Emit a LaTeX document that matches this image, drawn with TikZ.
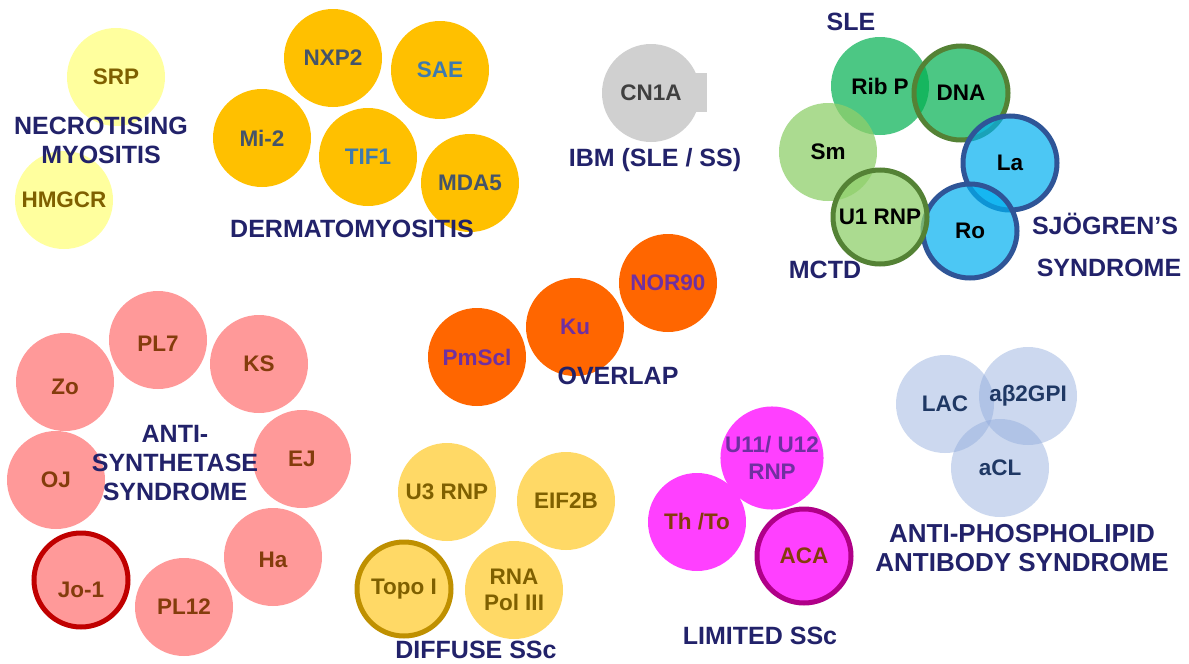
\documentclass[tikz,border=0pt]{standalone}
\usepackage{fontspec}
\setmainfont{Liberation Sans}
\definecolor{navy}{HTML}{22226A}
\definecolor{necro}{HTML}{FFFF9E}
\definecolor{olive}{HTML}{7F6000}
\definecolor{derm}{HTML}{FFC000}
\definecolor{slate}{HTML}{44546A}
\definecolor{tealb}{HTML}{3F7AAE}
\definecolor{grayc}{HTML}{D0D0D0}
\definecolor{grayt}{HTML}{404040}
\definecolor{sleg}{HTML}{00B050}
\definecolor{ltg}{HTML}{8FCF6B}
\definecolor{ringg}{HTML}{548235}
\definecolor{blu}{HTML}{00B0F0}
\definecolor{ringb}{HTML}{2F5597}
\definecolor{ovl}{HTML}{FF6600}
\definecolor{purp}{HTML}{7030A0}
\definecolor{pink}{HTML}{FF9999}
\definecolor{brown}{HTML}{843C0C}
\definecolor{ringr}{HTML}{C00000}
\definecolor{diff}{HTML}{FFD966}
\definecolor{ringy}{HTML}{BF9000}
\definecolor{mag}{HTML}{FF40FF}
\definecolor{ringm}{HTML}{B00088}
\definecolor{aps}{HTML}{8FAADC}
\definecolor{apst}{HTML}{1F3864}
\newcommand{\lowered}[2]{\raisebox{-#1}[0pt][0pt]{#2}}
\begin{document}
\begin{tikzpicture}[x=1pt,y=-1pt,
  disc/.style={circle, minimum size=98pt, inner sep=0pt, align=center,
    font=\fontsize{22.5}{26}\selectfont\bfseries},
  ringed/.style={disc, minimum size=94pt, line width=5pt},
  lbl/.style={text=navy, align=center, inner sep=0pt,
    font=\fontsize{25}{29}\selectfont\bfseries},
  trans/.style={fill opacity=#1, text opacity=1, draw opacity=1}
]
\useasboundingbox[fill=white] (0,0) rectangle (1189,664);

% Necrotising myositis
\node[disc, fill=necro, text=olive] (srp) at (116,77) {SRP};
\node[disc, fill=necro, text=olive] (hmgcr) at (64,200) {HMGCR};
\node[lbl] (necl) at (101,140) {NECROTISING\\MYOSITIS};

% Dermatomyositis
\node[disc, fill=derm, text=slate] (nxp2) at (333,58) {NXP2};
\node[disc, fill=derm, text=tealb] (sae) at (440,70) {SAE};
\node[disc, fill=derm, text=slate] (mi2) at (262,138) {Mi-2};
\node[disc, fill=derm, text=tealb] (tif1) at (368,157) {TIF1};
\node[disc, fill=derm, text=slate] (mda5) at (470,183) {MDA5};
\node[lbl] (derml) at (352,229) {DERMATOMYOSITIS};

% IBM
\fill[grayc] (696,73) rectangle (707,112);
\node[disc, fill=grayc, text=grayt] (cn1a) at (651,93) {CN1A};
\node[lbl] (ibml) at (655,160) {IBM (SLE / SS)};

% SLE / SS / MCTD
\node[disc, trans=0.7, fill=sleg, text=black] (ribp) at (880,86) {Rib P};
\node[disc, trans=0.75, fill=ltg, text=black] (sm) at (828,152) {Sm};
\node[ringed, trans=0.7, fill=sleg, draw=ringg, text=black] (dna) at (961,93) {DNA};
\node[ringed, trans=0.7, fill=blu, draw=ringb, text=black] (la) at (1010,163) {La};
\node[ringed, trans=0.7, fill=blu, draw=ringb, text=black] (ro) at (970,231) {Ro};
\node[ringed, trans=0.75, fill=ltg, draw=ringg, text=black] (u1) at (880,217) {U1 RNP};
\node[lbl] (slel) at (851,22) {SLE};
\node[lbl] (mctdl) at (825,270) {MCTD};
\node[lbl] (sjl) at (1105,224) {SJÖGREN’S};
\node[lbl] (syl) at (1109,268) {SYNDROME};

% Overlap
\node[disc, fill=ovl, text=purp] (pmscl) at (477,357) {PmScl};
\node[disc, fill=ovl, text=purp] (ku) at (575,327) {Ku};
\node[disc, fill=ovl, text=purp] (nor90) at (668,283) {NOR90};
\node[lbl] (ovll) at (618,376) {OVERLAP};

% Anti-synthetase
\node[disc, fill=pink, text=brown] (pl7) at (158,340) {\lowered{11pt}{PL7}};
\node[disc, fill=pink, text=brown] (ks) at (259,364) {KS};
\node[disc, fill=pink, text=brown] (zo) at (65,382) {\lowered{12pt}{Zo}};
\node[disc, fill=pink, text=brown] (ej) at (302,459) {EJ};
\node[disc, fill=pink, text=brown] (oj) at (56,480) {OJ};
\node[disc, fill=pink, text=brown] (ha) at (273,557) {\lowered{10pt}{Ha}};
\node[ringed, fill=pink, draw=ringr, text=brown] (jo1) at (81,580) {\lowered{17pt}{Jo-1}};
\node[disc, fill=pink, text=brown] (pl12) at (184,607) {PL12};
\node[lbl] (asl) at (175,463) {ANTI-\\SYNTHETASE\\SYNDROME};

% Diffuse SSc
\node[disc, fill=diff, text=olive] (u3) at (447,492) {U3 RNP};
\node[disc, fill=diff, text=olive] (eif) at (566,501) {EIF2B};
\node[ringed, fill=diff, draw=ringy, text=olive] (topo) at (404,589) {Topo I};
\node[disc, fill=diff, text=olive, font=\fontsize{22.5}{26}\selectfont\bfseries] (rna) at (514,590) {RNA\\Pol III};
\node[lbl] (diffl) at (476,650) {DIFFUSE SSc};

% Limited SSc
\node[disc, fill=mag, text=purp, font=\fontsize{22.5}{27}\selectfont\bfseries] (u11) at (772,458) {U11/ U12\\RNP};
\node[disc, fill=mag, text=brown] (thto) at (697,522) {Th /To};
\node[ringed, fill=mag, draw=ringm, text=brown] (aca) at (804,556) {ACA};
\node[lbl] (liml) at (760,636) {LIMITED SSc};

% APS
\node[disc, trans=0.45, fill=aps, text=apst] (lac) at (945,404) {LAC};
\node[disc, trans=0.45, fill=aps, text=apst] (ab2) at (1028,396) {aβ2GPI};
\node[disc, trans=0.45, fill=aps, text=apst] (acl) at (1000,468) {aCL};
\node[lbl, font=\fontsize{26}{29}\selectfont\bfseries] (apsl) at (1022,548) {ANTI-PHOSPHOLIPID\\ANTIBODY SYNDROME};
\end{tikzpicture}
\end{document}
